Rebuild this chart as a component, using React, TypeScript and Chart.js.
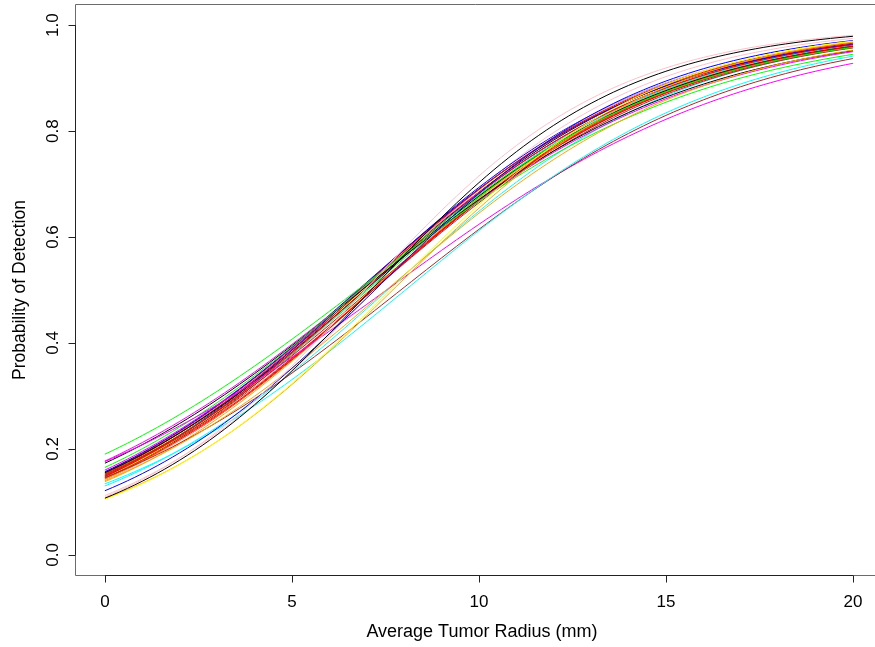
import React, { useEffect, useRef } from "react";
import { Chart, registerables } from "chart.js";

Chart.register(...registerables);

// One fitted detection curve per entry: colour, probability at 0 mm and at 20 mm.
const curveColors = [
  "#000000", "#FFC0CB", "#FFFF00", "#FFA500", "#0000FF", "#00FFFF",
  "#FFA500", "#A52A2A", "#FF00FF", "#00FF00", "#00FF00", "#000000",
  "#FF00FF", "#FF0000", "#FF0000", "#FF0000", "#FF0000", "#0000FF",
  "#000000", "#00FFFF", "#FFC0CB", "#A52A2A", "#FFA500", "#FF00FF",
  "#FFFF00", "#FF0000", "#00FF00", "#0000FF", "#000000", "#FF0000",
  "#A52A2A", "#FF0000", "#FFA500", "#FFC0CB", "#00FFFF", "#FF0000",
];
const probAtZero = [
  0.107, 0.109, 0.105, 0.106, 0.121, 0.134,
  0.140, 0.146, 0.176, 0.190, 0.165, 0.173,
  0.177, 0.150, 0.148, 0.145, 0.152, 0.157,
  0.155, 0.150, 0.140, 0.150, 0.143, 0.160,
  0.146, 0.156, 0.152, 0.149, 0.146, 0.143,
  0.155, 0.147, 0.138, 0.112, 0.130, 0.153,
];
const probAtTwenty = [
  0.979, 0.981, 0.970, 0.968, 0.971, 0.9415,
  0.953, 0.937, 0.928, 0.945, 0.958, 0.952,
  0.950, 0.963, 0.966, 0.960, 0.958, 0.964,
  0.960, 0.962, 0.968, 0.957, 0.962, 0.961,
  0.966, 0.964, 0.960, 0.967, 0.965, 0.961,
  0.962, 0.959, 0.964, 0.975, 0.958, 0.965,
];

const xTickValues = [0, 5, 10, 15, 20];
const xTickLabels = ["0", "5", "10", "15", "20"];
const yTickValues = [0, 0.2, 0.4, 0.6, 0.8, 1.0];
const yTickLabels = ["0.0", "0.2", "0.4", "0.6", "0.8", "1.0"];
const xTitle = "Average Tumor Radius (mm)";
const yTitle = "Probability of Detection";

// radius grid on which each logistic curve is evaluated (0..20 mm)
const radiusGrid: number[] = Array.from({ length: 101 }, (_, i) => i * 0.2);

const logit = (p: number) => Math.log(p / (1 - p));

function logisticCurve(p0: number, p20: number) {
  const a = logit(p0);
  const b = (logit(p20) - a) / 20;
  return radiusGrid.map((r) => ({ x: r, y: 1 / (1 + Math.exp(-(a + b * r))) }));
}

const FAMILY = '"Liberation Sans", Arial, Helvetica, sans-serif';
const TICK_FONT = `17px ${FAMILY}`;
const XTITLE_FONT = `18px ${FAMILY}`;
const YTITLE_FONT = `17.5px ${FAMILY}`;

// Base-graphics style frame: box, outward ticks, parallel labels.
const frameAxes = {
  id: "frameAxes",
  afterDraw(chart: any) {
    const { ctx, chartArea, scales } = chart;
    const xs = scales.x;
    const ys = scales.y;
    const left = chartArea.left + 0.5;
    const top = chartArea.top + 0.5;
    const bottom = chartArea.bottom - 0.5;
    const right = chart.width;
    ctx.save();
    ctx.lineWidth = 1;

    // box
    ctx.strokeStyle = "#6b6b6b";
    ctx.beginPath();
    ctx.moveTo(right, top);
    ctx.lineTo(left, top);
    ctx.lineTo(left, bottom);
    ctx.lineTo(right, bottom);
    ctx.stroke();

    // x axis
    ctx.strokeStyle = "#222";
    const x0 = xs.getPixelForValue(xTickValues[0]);
    const x1 = xs.getPixelForValue(xTickValues[xTickValues.length - 1]);
    ctx.beginPath();
    ctx.moveTo(x0, bottom);
    ctx.lineTo(x1, bottom);
    xTickValues.forEach((v) => {
      const px = Math.round(xs.getPixelForValue(v)) + 0.5;
      ctx.moveTo(px, bottom);
      ctx.lineTo(px, bottom + 7);
    });
    ctx.stroke();

    // y axis
    const y0 = ys.getPixelForValue(yTickValues[0]);
    const y1 = ys.getPixelForValue(yTickValues[yTickValues.length - 1]);
    ctx.beginPath();
    ctx.moveTo(left, y0);
    ctx.lineTo(left, y1);
    yTickValues.forEach((v) => {
      const py = Math.round(ys.getPixelForValue(v)) + 0.5;
      ctx.moveTo(left, py);
      ctx.lineTo(left - 7, py);
    });
    ctx.stroke();

    ctx.fillStyle = "#000";
    ctx.font = TICK_FONT;
    ctx.textAlign = "center";
    ctx.textBaseline = "alphabetic";
    xTickValues.forEach((v, i) => {
      ctx.fillText(xTickLabels[i], xs.getPixelForValue(v), 607);
    });
    yTickValues.forEach((v, i) => {
      ctx.save();
      ctx.translate(58, ys.getPixelForValue(v));
      ctx.rotate(-Math.PI / 2);
      ctx.fillText(yTickLabels[i], 0, 0);
      ctx.restore();
    });

    // axis titles, centred on the plotting range
    const xMid = xs.getPixelForValue((xs.min + 20.8) / 2) + 3;
    ctx.font = XTITLE_FONT;
    ctx.fillText(xTitle, xMid, 637);
    ctx.font = YTITLE_FONT;
    ctx.save();
    ctx.translate(25, (chartArea.top + chartArea.bottom) / 2);
    ctx.rotate(-Math.PI / 2);
    ctx.fillText(yTitle, 0, 0);
    ctx.restore();

    ctx.restore();
  },
};

export default function App() {
  const canvasRef = useRef<HTMLCanvasElement | null>(null);

  useEffect(() => {
    if (!canvasRef.current) return;
    const datasets = curveColors.map((c, i) => ({
      label: `fit ${i + 1}`,
      data: logisticCurve(probAtZero[i], probAtTwenty[i]),
      borderColor: c,
      backgroundColor: c,
      borderWidth: 1,
      pointRadius: 0,
      tension: 0,
      fill: false,
    }));
    const chart = new Chart(canvasRef.current, {
      type: "line",
      data: { datasets },
      options: {
        responsive: false,
        animation: false,
        devicePixelRatio: 1,
        layout: { padding: { left: 75, top: 4, right: 0, bottom: 71 } },
        plugins: { legend: { display: false }, tooltip: { enabled: false } },
        scales: {
          x: { type: "linear", min: -0.8, max: 20.59, display: false },
          y: { type: "linear", min: -0.04, max: 1.04, display: false },
        },
      },
      plugins: [frameAxes],
    });
    return () => chart.destroy();
  }, []);

  return (
    <div style={{ position: "fixed", left: 0, top: 0, width: 875, height: 647, background: "#fff" }}>
      <canvas ref={canvasRef} width={875} height={647} style={{ display: "block" }} />
    </div>
  );
}
